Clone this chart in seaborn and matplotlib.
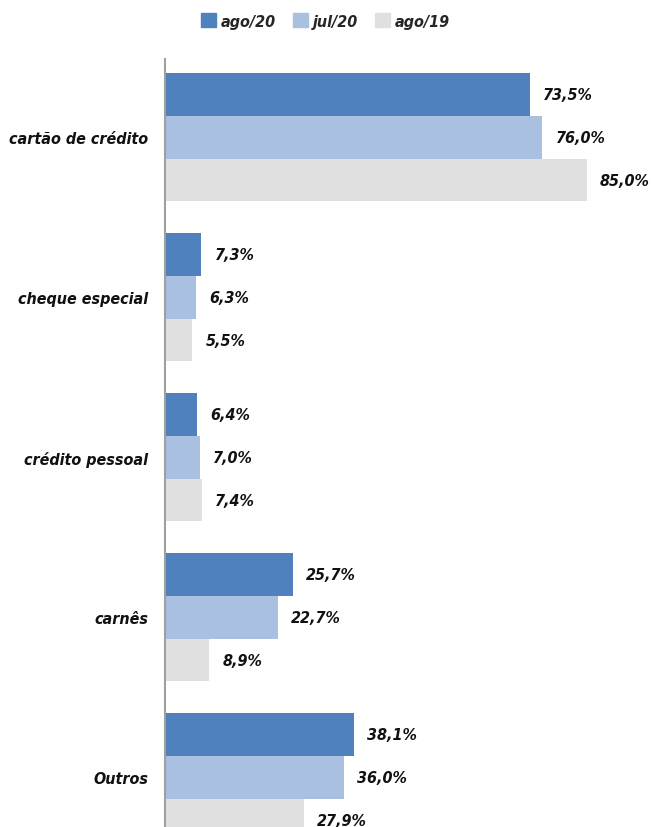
import pandas as pd
import matplotlib.pyplot as plt
import seaborn as sns

# dados do gráfico
categorias = ['cartão de crédito', 'cheque especial', 'crédito pessoal', 'carnês', 'Outros']
series = ['ago/20', 'jul/20', 'ago/19']
ago20 = [73.5, 7.3, 6.4, 25.7, 38.1]
jul20 = [76.0, 6.3, 7.0, 22.7, 36.0]
ago19 = [85.0, 5.5, 7.4, 8.9, 27.9]
cores = ['#4F81BD', '#A9C0E0', '#E0E0E0']

df = pd.DataFrame({
    'categoria': categorias * 3,
    'serie': [s for s in series for _ in categorias],
    'valor': ago20 + jul20 + ago19,
})

sns.set_style('white')
fonte = ['Liberation Sans Narrow', 'DejaVu Sans']
plt.rcParams['font.family'] = fonte
plt.rcParams['font.style'] = 'italic'
plt.rcParams['font.weight'] = 'bold'
plt.rcParams['font.stretch'] = 'condensed'

fig = plt.figure(figsize=(6.51, 8.28), dpi=100)
ax = fig.add_axes([165 / 651, 0, 1 - 165 / 651, 1 - 60 / 828])

sns.barplot(data=df, y='categoria', x='valor', hue='serie', orient='h',
            palette=cores, width=0.8, gap=0, saturation=1, linewidth=0, ax=ax)

for cont in ax.containers:
    labels = [f"{v:.1f}".replace('.', ',') + '%' for v in cont.datavalues]
    ax.bar_label(cont, labels=labels, padding=9.5, fontsize=11.5,
                 fontstyle='italic', fontweight='bold', fontstretch='condensed',
                 color='#111111')

ax.set_xlim(0, 97.9)
ax.set_ylim(4.31, -0.49)
ax.set_xlabel('')
ax.set_ylabel('')
ax.set_xticks([])
ax.tick_params(axis='y', length=0, pad=12, labelsize=11.5)
for lab in ax.get_yticklabels():
    lab.set_fontstyle('italic')
    lab.set_fontweight('bold')
    lab.set_fontstretch('condensed')
    lab.set_color('#111111')

for side in ['top', 'right', 'bottom']:
    ax.spines[side].set_visible(False)
ax.spines['left'].set_color('#A0A0A0')
ax.spines['left'].set_linewidth(1.5)

ax.legend_.remove()
handles = [plt.Rectangle((0, 0), 1, 1, color=c) for c in cores]
fig.legend(handles, series, loc='center', bbox_to_anchor=(0.5, 1 - 22 / 828),
           ncol=3, frameon=False, handlelength=0.9, handleheight=0.9,
           handletextpad=0.3, columnspacing=1.1,
           prop={'family': fonte, 'style': 'italic', 'weight': 'bold',
                 'stretch': 'condensed', 'size': 11.5})

fig.savefig('out.png', dpi=100)
